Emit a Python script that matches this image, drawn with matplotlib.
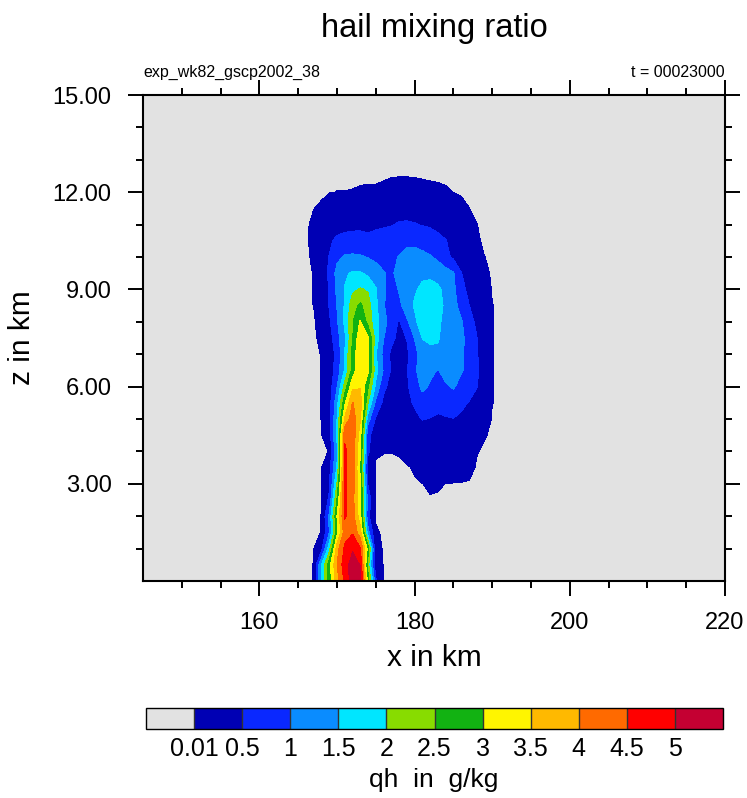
import numpy as np
import matplotlib.pyplot as plt
from matplotlib.colors import ListedColormap, BoundaryNorm
from matplotlib.ticker import FixedLocator, FormatStrFormatter

plt.rcParams['font.family'] = ['Liberation Sans', 'DejaVu Sans']

# ===============================
# Grid of the cross-section (km)
# ===============================
x_km = [166, 167, 168, 169, 170, 171, 172, 173, 174, 175, 176, 177, 178, 179,
        180, 181, 182, 183, 184, 185, 186, 187, 188, 189, 190, 191, 192]
z_km = [0.0, 0.5, 1.0, 1.5, 2.0, 2.5, 3.0, 3.5, 4.0, 4.5, 5.0, 5.5, 6.0, 6.5,
        7.0, 7.5, 8.0, 8.5, 9.0, 9.5, 10.0, 10.5, 11.0, 11.5, 12.0, 12.5, 13.0]

# ===============================
# Hail mixing ratio qh (g/kg), one row per height
# ===============================
qh = np.array([
    # 166   167    168   169   170   171   172   173   174   175   176    177    178    179   180   181   182   183   184   185   186   187   188    189    190   191 192
    [0, 0.012, 1.6, 2.7, 3.8, 4.6, 5.3, 5.2, 2.8, 0.6, 0.005, 0, 0, 0, 0, 0, 0, 0, 0, 0, 0, 0, 0, 0, 0, 0, 0],
    [0, 0.012, 1.5, 2.8, 4.0, 4.8, 5.2, 4.98, 2.2, 0.15, 0, 0, 0, 0, 0, 0, 0, 0, 0, 0, 0, 0, 0, 0, 0, 0, 0],
    [0, 0, 0.35, 1.8, 3.8, 4.6, 4.95, 4.55, 2.8, 0.05, 0, 0, 0, 0, 0, 0, 0, 0, 0, 0, 0, 0, 0, 0, 0, 0, 0],
    [0, 0, 0.012, 1.0, 2.8, 4.3, 4.45, 3.7, 1.2, 0.02, 0, 0, 0, 0, 0, 0, 0, 0, 0, 0, 0, 0, 0, 0, 0, 0, 0],
    [0, 0, 0.012, 1.1, 3.02, 4.55, 4.25, 3.2, 0.6, 0, 0, 0, 0, 0, 0, 0, 0, 0, 0, 0, 0, 0, 0, 0, 0, 0, 0],
    [0, 0, 0, 0.6, 2.55, 4.6, 4.2, 3.1, 0.8, 0, 0, 0, 0, 0, 0, 0, 0, 0, 0, 0, 0, 0, 0, 0, 0, 0, 0],
    [0, 0, 0, 0.4, 2.05, 4.6, 4.25, 3.05, 0.45, 0, 0, 0, 0, 0, 0, 0.008, 0.03, 0.02, 0.009, 0, 0, 0, 0, 0, 0, 0, 0],
    [0, 0, 0, 0.35, 1.55, 4.58, 4.3, 2.9, 0.2, 0, 0, 0, 0, 0, 0.02, 0.2, 0.25, 0.25, 0.22, 0.18, 0.12, 0.05, 0, 0, 0, 0, 0],
    [0, 0, 0, 0.012, 1.4, 4.55, 4.35, 3.02, 0.6, 0.02, 0.012, 0.011, 0.015, 0.05, 0.15, 0.25, 0.28, 0.28, 0.27, 0.24, 0.2, 0.12, 0.015, 0, 0, 0, 0],
    [0, 0, 0, 0.3, 1.6, 4.45, 4.4, 3.2, 0.6, 0.3, 0.28, 0.25, 0.25, 0.25, 0.25, 0.26, 0.27, 0.27, 0.26, 0.24, 0.2, 0.15, 0.08, 0.015, 0, 0, 0],
    [0, 0, 0.011, 0.3, 1.5, 3.6, 4.3, 3.55, 1.2, 0.45, 0.3, 0.28, 0.28, 0.32, 0.4, 0.52, 0.48, 0.45, 0.47, 0.49, 0.42, 0.32, 0.22, 0.1, 0, 0, 0],
    [0, 0, 0.012, 0.3, 1.3, 2.9, 4.02, 3.8, 2.02, 0.9, 0.4, 0.3, 0.28, 0.4, 0.55, 0.8, 0.75, 0.6, 0.65, 0.75, 0.6, 0.48, 0.35, 0.2, 0.012, 0, 0],
    [0, 0, 0.012, 0.25, 0.98, 2.2, 3.4, 3.45, 2.55, 1.4, 0.6, 0.35, 0.3, 0.42, 0.8, 1.1, 0.95, 0.85, 0.95, 1.05, 0.85, 0.7, 0.52, 0.25, 0.012, 0, 0],
    [0, 0, 0.012, 0.25, 0.7, 1.55, 2.7, 3.45, 3.1, 1.7, 0.95, 0.45, 0.25, 0.45, 0.95, 1.15, 1.1, 0.98, 1.15, 1.15, 1.05, 0.85, 0.6, 0.25, 0.012, 0, 0],
    [0, 0, 0.012, 0.3, 0.6, 1.52, 2.7, 3.45, 3.15, 1.55, 0.85, 0.4, 0.25, 0.4, 0.85, 1.2, 1.35, 1.4, 1.3, 1.2, 1.1, 0.8, 0.55, 0.2, 0.012, 0, 0],
    [0, 0, 0.025, 0.3, 0.8, 1.4, 2.45, 3.4, 3.1, 1.75, 1.02, 0.65, 0.35, 0.52, 1.02, 1.52, 1.6, 1.55, 1.3, 1.2, 1.1, 0.85, 0.52, 0.2, 0.012, 0, 0],
    [0, 0, 0.05, 0.42, 0.95, 1.6, 2.45, 3.05, 2.3, 1.7, 1.2, 0.75, 0.45, 0.9, 1.4, 1.75, 1.85, 1.6, 1.35, 1.2, 1.05, 0.7, 0.4, 0.15, 0.012, 0, 0],
    [0, 0.011, 0.2, 0.52, 1.02, 1.55, 2.3, 2.6, 2.2, 1.6, 1.05, 0.7, 0.85, 1.3, 1.55, 1.85, 1.95, 1.7, 1.4, 1.15, 0.85, 0.52, 0.25, 0.08, 0.012, 0, 0],
    [0, 0.012, 0.2, 0.52, 1.1, 1.52, 1.9, 2.05, 1.95, 1.55, 1.1, 0.75, 1.05, 1.3, 1.45, 1.6, 1.65, 1.6, 1.35, 1.1, 0.7, 0.35, 0.15, 0.05, 0.005, 0, 0],
    [0, 0.012, 0.2, 0.6, 1.15, 1.45, 1.55, 1.55, 1.4, 1.15, 1.02, 0.95, 1.1, 1.25, 1.35, 1.4, 1.4, 1.3, 1.2, 1.05, 0.52, 0.25, 0.1, 0.03, 0, 0, 0],
    [0, 0.02, 0.2, 0.52, 0.9, 1.05, 1.08, 1.05, 0.98, 0.92, 0.9, 0.92, 1.02, 1.12, 1.15, 1.12, 1.05, 0.9, 0.62, 0.42, 0.25, 0.12, 0.04, 0.011, 0, 0, 0],
    [0, 0.03, 0.2, 0.42, 0.6, 0.66, 0.68, 0.66, 0.58, 0.62, 0.65, 0.72, 0.85, 0.92, 0.9, 0.82, 0.7, 0.6, 0.52, 0.36, 0.22, 0.1, 0.02, 0, 0, 0, 0],
    [0, 0.025, 0.12, 0.22, 0.3, 0.35, 0.38, 0.4, 0.42, 0.44, 0.46, 0.48, 0.53, 0.54, 0.52, 0.48, 0.45, 0.4, 0.32, 0.22, 0.12, 0.04, 0.011, 0, 0, 0, 0],
    [0, 0.009, 0.02, 0.1, 0.15, 0.2, 0.22, 0.25, 0.28, 0.3, 0.32, 0.35, 0.37, 0.37, 0.36, 0.33, 0.3, 0.25, 0.18, 0.1, 0.04, 0.011, 0, 0, 0, 0, 0],
    [0, 0, 0, 0.005, 0.011, 0.011, 0.0125, 0.017, 0.02, 0.02, 0.033, 0.1, 0.2, 0.2, 0.1, 0.05, 0.033, 0.025, 0.017, 0.009, 0, 0, 0, 0, 0, 0, 0],
    [0, 0, 0, 0, 0, 0, 0, 0, 0, 0, 0, 0, 0, 0, 0, 0, 0, 0, 0, 0, 0, 0, 0, 0, 0, 0, 0],
    [0, 0, 0, 0, 0, 0, 0, 0, 0, 0, 0, 0, 0, 0, 0, 0, 0, 0, 0, 0, 0, 0, 0, 0, 0, 0, 0],
])

# ===============================
# Contour levels & colours
# ===============================
levels = [0.01, 0.5, 1, 1.5, 2, 2.5, 3, 3.5, 4, 4.5, 5]
level_labels = ["0.01", "0.5", "1", "1.5", "2", "2.5", "3", "3.5", "4", "4.5", "5"]
fill_colors = ["#E2E2E2",  # below 0.01
               "#0000B4", "#0A28FF", "#0A8CFF", "#00E6FF", "#88DC00",
               "#12B212", "#FFF500", "#FFB900", "#FF6A00", "#FF0000",
               "#C40032"]  # above 5

cmap = ListedColormap(fill_colors[1:-1])
cmap.set_under(fill_colors[0])
cmap.set_over(fill_colors[-1])
norm = BoundaryNorm(levels, cmap.N)

# ===============================
# Plot
# ===============================
fig = plt.figure(figsize=(7.47, 7.98), dpi=100)
ax = fig.add_axes([143 / 747, 1 - 581 / 798, 582 / 747, 486 / 798])
ax.set_facecolor(fill_colors[0])

cf = ax.contourf(x_km, z_km, qh, levels=levels, cmap=cmap, norm=norm, extend='both')

ax.set_xlim(145, 220)
ax.set_ylim(0, 15)
ax.xaxis.set_major_locator(FixedLocator([160, 180, 200, 220]))
ax.xaxis.set_minor_locator(FixedLocator([150, 155, 165, 170, 175, 185, 190, 195, 205, 210, 215]))
ax.yaxis.set_major_locator(FixedLocator([3, 6, 9, 12, 15]))
ax.yaxis.set_minor_locator(FixedLocator([1, 2, 4, 5, 7, 8, 10, 11, 13, 14]))
ax.yaxis.set_major_formatter(FormatStrFormatter('%.2f'))
ax.tick_params(which='both', direction='out', top=True, right=True, width=1.4,
               labelsize=17, pad=12)
ax.tick_params(which='major', length=10.5)
ax.tick_params(which='minor', length=5)
for sp in ax.spines.values():
    sp.set_linewidth(1.5)

ax.set_xlabel("x in km", fontsize=21.5, labelpad=7)
ax.set_ylabel("z in km", fontsize=21.5, labelpad=12)

fig.text(434 / 747, 1 - 37 / 798, "hail mixing ratio", fontsize=23.5,
         ha='center', va='baseline')
ax.text(0.0, 1.037, "exp_wk82_gscp2002_38", transform=ax.transAxes,
        fontsize=11.5, ha='left', va='baseline')
ax.text(1.0, 1.037, "t = 00023000", transform=ax.transAxes,
        fontsize=11.5, ha='right', va='baseline')

# label bar
cax = fig.add_axes([146 / 747, 1 - 729 / 798, 577 / 747, 21 / 798])
cb = fig.colorbar(cf, cax=cax, orientation='horizontal', ticks=levels,
                  extendrect=True, extendfrac=0.1, drawedges=True)
cb.set_ticklabels(level_labels)
cb.ax.tick_params(length=0, labelsize=18, pad=6)
cb.outline.set_linewidth(1.0)
cb.dividers.set_linewidth(1.0)
cb.dividers.set_color('#333333')
fig.text(434 / 747, 1 - 787 / 798, "qh  in  g/kg", fontsize=19,
         ha='center', va='baseline')

fig.savefig("out.png", dpi=100)
